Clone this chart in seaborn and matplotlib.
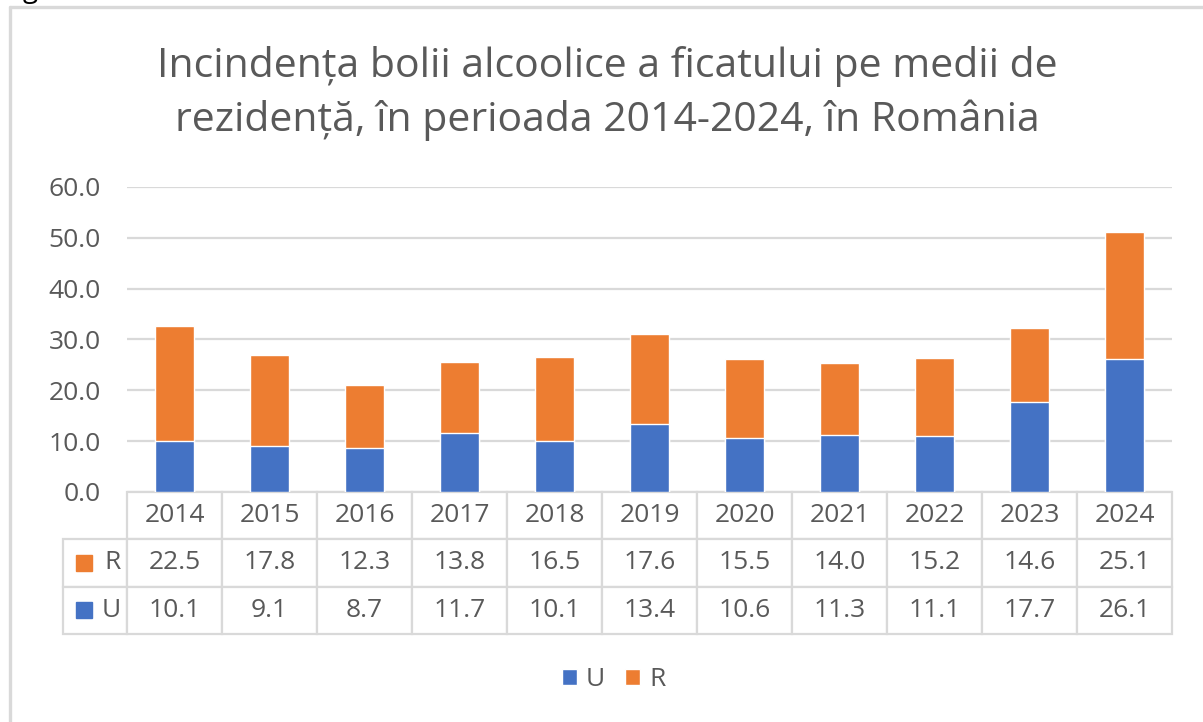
import pandas as pd
import numpy as np
import matplotlib
matplotlib.use("Agg")
import matplotlib.pyplot as plt
import seaborn as sns
from matplotlib.lines import Line2D
from matplotlib.patches import Patch

# data
years = ["2014", "2015", "2016", "2017", "2018", "2019", "2020", "2021", "2022", "2023", "2024"]
urban = [10.1, 9.1, 8.7, 11.7, 10.1, 13.4, 10.6, 11.3, 11.1, 17.7, 26.1]
rural = [22.5, 17.8, 12.3, 13.8, 16.5, 17.6, 15.5, 14.0, 15.2, 14.6, 25.1]
y_ticks = [0, 10, 20, 30, 40, 50, 60]

BLUE = "#4472C4"
ORANGE = "#ED7D31"
TXT = "#595959"
GRID = "#D9D9D9"
FS = 19

sns.set_theme(style="white")
plt.rcParams["font.family"] = ["Open Sans", "DejaVu Sans"]

df = pd.DataFrame({"year": years, "U": urban, "R": rural})
df["total"] = df["U"] + df["R"]

fig = plt.figure(figsize=(12.03, 7.22), dpi=100)
ax = fig.add_axes([0.1056, 0.3186, 0.8687, 0.4224])

# stacked bars: total (orange) behind, urban (blue) in front
sns.barplot(data=df, x="year", y="total", color=ORANGE, width=0.41,
            saturation=1, ax=ax, zorder=3)
sns.barplot(data=df, x="year", y="U", color=BLUE, width=0.41,
            saturation=1, ax=ax, zorder=4)

ax.set_ylim(0, 60)
ax.set_xlim(-0.5, len(years) - 0.5)
ax.set_yticks(y_ticks)
ax.set_yticklabels([f"{v:.1f}" for v in y_ticks], color=TXT, fontsize=FS)
ax.tick_params(axis="y", length=0, pad=19)
ax.tick_params(axis="x", length=0, labelbottom=False)
ax.set_xlabel("")
ax.set_ylabel("")
ax.yaxis.grid(True, color=GRID, linewidth=1.6, zorder=0)
ax.set_axisbelow(True)
for s in ax.spines.values():
    s.set_visible(False)

# data table under the plot (first column holds the series names)
lab_w = 64 / 1045
tab_h = 142 / 305
cell_text = [["R"] + [f"{v:.1f}" for v in rural],
             ["U"] + [f"{v:.1f}" for v in urban]]
tbl = ax.table(cellText=cell_text, colLabels=[""] + years,
               colWidths=[lab_w] + [1 / len(years)] * len(years),
               cellLoc="center", colLoc="center",
               bbox=[-lab_w, -tab_h, 1 + lab_w, tab_h])
tbl.auto_set_font_size(False)
tbl.set_fontsize(FS)
for (r, c), cell in tbl.get_celld().items():
    cell.set_edgecolor(GRID)
    cell.set_linewidth(1.6)
    cell.get_text().set_color(TXT)
    if c == 0:
        cell.get_text().set_ha("right")
        if r == 0:
            cell.visible_edges = ""

# legend keys inside the row label cells
for yy, col in [(-71.5 / 305, ORANGE), (-118.5 / 305, BLUE)]:
    ax.plot([-43 / 1045], [yy], marker="s", ms=11.5, color=col,
            transform=ax.transAxes, clip_on=False, linestyle="none")

# title
fig.text(0.5046, 0.871,
         "Incindența bolii alcoolice a ficatului pe medii de\nrezidență, în perioada 2014-2024, în România",
         ha="center", va="center", fontsize=29.5, color=TXT, linespacing=1.4)

# bottom legend
handles = [Patch(facecolor=BLUE, label="U"), Patch(facecolor=ORANGE, label="R")]
leg = fig.legend(handles=handles, loc="center", bbox_to_anchor=(0.510, 0.0582),
                 ncol=2, frameon=False, fontsize=FS, handlelength=0.58,
                 handleheight=0.58, handletextpad=0.34, columnspacing=0.75)
for t in leg.get_texts():
    t.set_color(TXT)

# chart frame (cut at the right and bottom edges of the image)
x0, y0 = 9.5 / 1203, 1 - 7 / 722
fig.add_artist(Line2D([x0, x0], [-0.05, y0], color=GRID, linewidth=2.4))
fig.add_artist(Line2D([x0, 1.05], [y0, y0], color=GRID, linewidth=2.4))
# descender of the caption letter cut off above the image
fig.text(0.019, 1.004, "g", ha="left", va="baseline", fontsize=20, color="black")

fig.savefig("out.png", dpi=100)
